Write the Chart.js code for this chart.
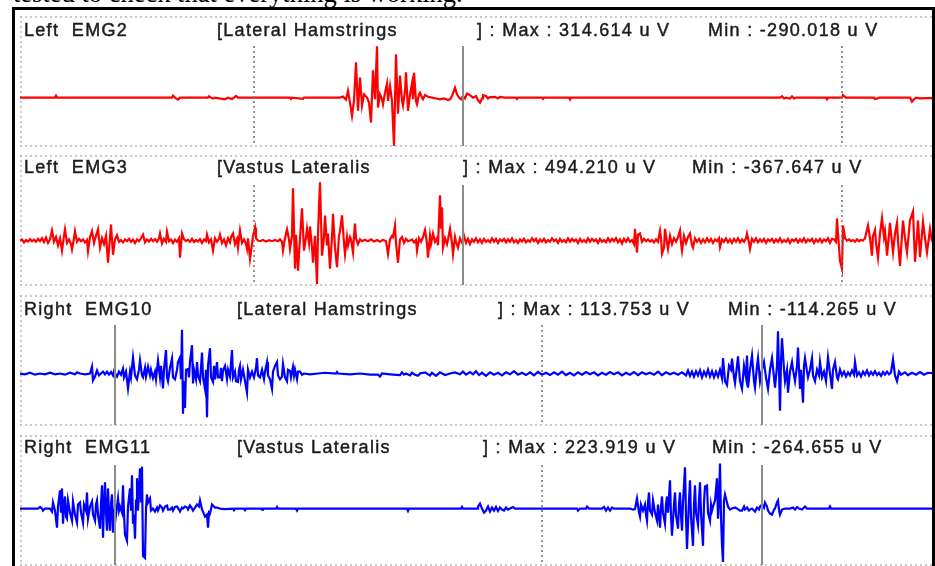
<!DOCTYPE html>
<html>
<head>
<meta charset="utf-8">
<script src="https://cdn.jsdelivr.net/npm/chart.js@4.4.1/dist/chart.umd.min.js"></script>
<style>
  body { margin: 0; background: #fff; width: 935px; height: 566px; overflow: hidden; position: relative; }
  .frame { position: absolute; left: 12px; top: 7px; width: 923px; height: 620px; box-sizing: border-box; border: 3px solid #000; z-index: 5; }
  .caption { position: absolute; left: 13px; font-family: "Liberation Serif", "Times New Roman", serif; font-size: 26.5px; line-height: 26.5px; white-space: pre; color: #000; }
  .lbl { position: absolute; font-family: "Liberation Sans", Arial, sans-serif; font-size: 18px; line-height: 18px; letter-spacing: 1.3px; white-space: pre; color: #1c1c1c; -webkit-text-stroke: 0.45px #1c1c1c; z-index: 3; }
  canvas { position: absolute; }
</style>
</head>
<body>
<div class="frame"></div>
<script>
// channel labels
const sides = ['Left', 'Left', 'Right', 'Right'];
const channels = ['EMG2', 'EMG3', 'EMG10', 'EMG11'];
const muscles = ['Lateral Hamstrings', 'Vastus Lateralis', 'Lateral Hamstrings', 'Vastus Lateralis'];
const maxVals = ['314.614', '494.210', '113.753', '223.919'];
const minVals = ['-290.018', '-367.647', '-114.265', '-264.655'];

// event markers (sample index)
const dottedMarks = [[254, 842], [254, 842], [542], [542]];
const solidMarks = [[463], [463], [115, 762], [115, 762]];

// traces: [sample, uV]
const emg2 = [[20,0],[55,0],[56,12],[57,0],[172,0],[173,12],[175,0],[178,-12],[180,0],[208,0],[209,8],[211,0],[213,-6],[215,0],[225,-10],[228,0],[232,-8],[234,0],[236,10],[238,0],[290,0],[291,-8],[292,0],[303,-8],[304,0],[340,0],[343,6],[346,-12],[348,42],[350,-30],[352,-109],[354,-20],[356,212],[358,-79],[360,121],[362,-48],[364,20],[367,0],[369,-30],[371,-150],[373,164],[375,-10],[377,309],[378,-60],[380,20],[382,-10],[383,-40],[385,30],[387,85],[388,-20],[390,70],[392,-20],[394,-290],[396,260],[398,-97],[400,133],[402,-20],[403,-48],[405,40],[406,152],[408,-79],[410,20],[412,85],[413,-10],[414,150],[416,-20],[417,-40],[419,20],[420,30],[422,0],[423,-10],[425,15],[428,5],[432,0],[436,-5],[440,-10],[444,-5],[448,-15],[450,-10],[452,10],[455,60],[457,20],[459,0],[461,-10],[463,10],[465,-5],[467,25],[470,15],[473,0],[476,10],[478,-15],[480,-30],[482,-5],[483,15],[486,10],[488,-5],[490,3],[495,5],[498,-5],[500,5],[505,0],[516,0],[517,-8],[518,0],[542,0],[543,-8],[544,0],[569,0],[570,-12],[571,0],[780,0],[782,8],[784,-5],[786,0],[790,-6],[792,8],[794,-5],[796,0],[826,0],[827,-10],[828,0],[842,0],[843,15],[845,5],[846,0],[874,0],[875,-8],[877,-6],[879,0],[910,0],[912,-25],[914,-10],[916,0],[920,-4],[925,-3],[935,-3]];

const emg3 = [[20,0],[22,10],[24,-15],[26,5],[28,-8],[30,12],[32,-5],[34,8],[36,-10],[38,15],[40,-5],[42,20],[44,-12],[46,25],[48,-20],[50,10],[52,85],[54,-10],[56,30],[58,-40],[60,20],[62,-85],[64,40],[65,95],[67,-20],[69,10],[71,-30],[72,-75],[74,20],[75,80],[77,-10],[79,15],[81,-5],[83,10],[85,-15],[87,5],[88,-90],[90,30],[92,80],[94,-20],[96,40],[98,95],[100,-60],[102,20],[104,-30],[106,40],[108,-188],[110,30],[111,137],[113,-120],[115,10],[117,45],[119,-10],[121,5],[123,-15],[125,10],[127,-5],[129,15],[131,-10],[133,8],[135,-20],[137,10],[139,-5],[141,20],[143,50],[145,-15],[147,10],[149,-8],[151,15],[153,-5],[155,12],[157,-10],[159,20],[160,60],[162,-25],[164,15],[166,-10],[167,75],[169,-5],[171,10],[173,-20],[175,8],[177,-10],[179,20],[180,-145],[182,60],[184,10],[186,-5],[188,8],[190,-10],[192,15],[194,-12],[196,5],[198,-8],[200,12],[202,-20],[204,10],[206,-5],[207,50],[209,-15],[211,10],[213,-85],[215,20],[217,-10],[219,15],[220,50],[222,-20],[224,10],[226,-40],[228,20],[230,-15],[231,30],[233,60],[235,-30],[237,15],[238,-60],[240,85],[242,-20],[244,10],[246,-30],[247,-70],[248,20],[250,-154],[252,-30],[253,40],[255,111],[256,20],[258,0],[260,-5],[263,5],[266,-8],[269,3],[272,-5],[275,5],[278,-5],[280,10],[282,-10],[283,-85],[285,20],[287,95],[289,10],[290,-70],[292,40],[293,444],[295,-239],[296,50],[298,-255],[300,20],[302,273],[304,-85],[306,30],[307,100],[309,-20],[310,120],[312,-60],[313,-188],[315,40],[317,-367],[318,60],[320,494],[322,-128],[324,30],[325,213],[327,-40],[328,60],[330,-239],[332,30],[333,228],[335,-60],[337,-225],[339,40],[340,80],[342,214],[344,-20],[345,-115],[347,30],[348,-40],[350,30],[351,10],[353,-100],[354,40],[355,145],[356,20],[358,-30],[360,10],[362,-5],[365,8],[368,-5],[371,10],[374,-8],[377,5],[380,-10],[383,8],[386,-5],[388,-115],[390,10],[392,40],[393,30],[395,128],[396,-20],[398,-188],[400,10],[402,30],[404,-20],[406,15],[408,-5],[410,0],[412,10],[414,-15],[416,5],[417,-85],[419,20],[421,-10],[423,30],[425,90],[427,-20],[428,-145],[430,40],[431,-30],[433,60],[435,-10],[437,20],[438,-40],[440,385],[441,100],[442,282],[443,-60],[445,20],[447,-30],[448,10],[450,100],[452,-20],[453,-115],[455,30],[456,-10],[458,-60],[460,20],[462,-15],[463,0],[464,40],[466,-20],[468,15],[470,-30],[472,10],[474,-10],[476,20],[478,-15],[480,10],[482,-20],[484,15],[486,-10],[488,5],[490,-15],[492,20],[494,-10],[496,15],[498,-20],[500,10],[502,-5],[504,15],[506,-15],[508,10],[510,-10],[512,20],[514,-15],[516,5],[518,-20],[520,10],[522,-8],[524,15],[526,-15],[528,5],[530,-10],[532,20],[534,-5],[536,15],[538,-20],[540,10],[542,-10],[544,15],[546,-15],[548,5],[550,-10],[552,20],[554,-5],[556,10],[558,-20],[560,15],[562,-10],[564,5],[566,-15],[568,20],[570,-10],[572,15],[574,-5],[576,10],[578,-20],[580,15],[582,-10],[584,5],[586,-15],[588,20],[590,-10],[592,15],[594,-5],[596,10],[598,-20],[600,15],[602,-10],[604,5],[606,-15],[608,20],[610,-10],[612,15],[614,-5],[616,20],[618,-15],[620,10],[622,-25],[624,15],[626,-10],[628,20],[630,-10],[632,5],[634,-30],[635,100],[637,-100],[638,50],[640,60],[642,-10],[644,15],[646,-5],[648,10],[650,-8],[652,5],[654,-15],[656,10],[658,-10],[660,85],[661,20],[662,-111],[664,-60],[665,100],[667,-20],[668,-70],[670,40],[672,-30],[674,20],[676,-10],[678,30],[680,85],[681,-20],[682,-85],[684,40],[686,-20],[688,30],[690,60],[692,-40],[693,-60],[695,20],[697,-10],[699,15],[701,-20],[703,10],[705,-15],[707,20],[709,-10],[711,15],[713,-20],[715,10],[717,-5],[719,20],[720,-55],[722,10],[724,-10],[726,20],[728,-15],[730,10],[732,-20],[734,15],[736,-10],[738,20],[740,-15],[742,10],[744,-10],[746,20],[747,60],[749,-20],[750,-70],[752,15],[754,-10],[756,20],[758,-15],[760,10],[762,-10],[764,15],[766,-20],[768,10],[770,-5],[772,15],[774,-15],[776,10],[778,-10],[780,20],[782,-15],[784,5],[786,-10],[788,15],[790,-20],[792,10],[794,-5],[796,15],[798,-15],[800,10],[802,-10],[804,20],[806,-15],[808,10],[810,-5],[812,15],[814,-20],[816,10],[818,-10],[820,15],[822,-15],[824,10],[826,-5],[828,20],[830,-20],[832,15],[834,10],[836,-10],[837,188],[838,60],[840,-171],[842,-239],[843,128],[845,20],[847,0],[849,10],[851,-5],[853,5],[855,-10],[857,10],[859,-5],[861,5],[863,0],[865,20],[868,128],[870,20],[872,-128],[873,40],[875,90],[876,-20],[878,-145],[880,60],[882,190],[884,30],[885,80],[886,-10],[887,-128],[889,50],[890,150],[892,-20],[893,-100],[895,60],[897,150],[898,0],[900,-214],[902,50],[903,170],[905,20],[907,-100],[909,80],[910,170],[913,248],[914,30],[915,-180],[917,40],[918,170],[919,20],[920,-140],[922,60],[923,160],[925,20],[927,-100],[929,30],[930,100],[932,0],[935,0]];

const emg10 = [[20,0],[25,-2],[30,2],[35,-3],[40,0],[45,-2],[50,2],[55,-2],[60,0],[65,-3],[70,2],[75,-2],[77,3],[80,0],[85,-2],[90,0],[92,18],[93,-18],[95,-8],[97,8],[99,-5],[101,0],[103,5],[105,-2],[107,5],[109,-3],[111,4],[113,-5],[114,6],[116,-4],[117,-8],[119,5],[121,-3],[123,13],[124,-10],[126,5],[128,-39],[130,5],[131,-10],[133,42],[135,-5],[137,-15],[139,10],[140,34],[142,-5],[143,-10],[145,15],[146,-8],[148,18],[150,-5],[151,10],[153,-12],[155,5],[156,-15],[158,34],[160,-10],[161,20],[163,-39],[164,10],[166,61],[167,-10],[168,-20],[170,15],[172,39],[173,-10],[175,-15],[177,10],[178,30],[180,42],[181,-15],[182,114],[183,-105],[184,-20],[185,-90],[186,10],[188,12],[189,-10],[190,30],[192,74],[193,-26],[194,10],[196,-15],[197,30],[198,-5],[200,-20],[201,15],[202,55],[203,-10],[205,-40],[206,10],[207,-114],[208,20],[210,66],[211,-10],[213,-22],[214,20],[215,-15],[217,30],[218,-10],[220,-10],[221,15],[222,-20],[223,8],[225,20],[227,-15],[228,10],[230,-8],[232,61],[233,-10],[235,5],[236,-20],[238,-22],[239,10],[240,20],[241,-15],[243,10],[245,-20],[247,-50],[248,10],[250,-10],[252,5],[254,-10],[256,15],[257,40],[258,-5],[260,-10],[262,10],[264,-15],[265,5],[267,30],[268,-5],[270,-15],[272,-40],[273,5],[275,20],[277,30],[278,-5],[280,-15],[282,-8],[283,25],[285,-10],[287,-20],[288,10],[290,7],[291,-10],[293,17],[294,-5],[295,10],[297,-15],[298,5],[300,5],[302,-3],[304,0],[310,-2],[318,0],[325,2],[336,0],[337,4],[338,0],[350,-2],[360,0],[370,-3],[378,-3],[380,-8],[382,0],[390,-2],[400,-4],[402,3],[404,-3],[406,0],[410,-5],[412,2],[415,-3],[418,-6],[420,0],[425,3],[430,-5],[432,2],[436,-6],[440,3],[445,-4],[450,0],[455,3],[460,-2],[463,5],[466,-3],[470,4],[473,-2],[476,6],[479,-4],[482,2],[486,-6],[490,3],[494,-3],[498,2],[502,-5],[506,3],[510,-2],[514,6],[518,-3],[522,2],[526,-4],[530,3],[534,-5],[538,4],[542,-3],[546,2],[550,-4],[554,3],[558,-3],[562,5],[566,-4],[570,2],[574,-5],[578,3],[582,-3],[586,4],[590,-2],[594,3],[598,-5],[602,2],[606,-3],[610,4],[614,-2],[618,3],[622,-5],[626,2],[630,-3],[634,4],[638,-4],[642,3],[646,-2],[650,2],[654,-3],[658,5],[662,-4],[666,3],[670,-2],[674,2],[678,-3],[682,3],[686,-5],[688,8],[690,-6],[692,5],[694,-8],[696,6],[698,-5],[700,8],[702,-10],[704,5],[706,-6],[708,10],[710,-8],[712,6],[714,-10],[716,5],[718,-8],[720,10],[722,-12],[723,40],[725,-20],[727,-30],[729,20],[731,10],[732,39],[734,-10],[735,-25],[737,20],[738,45],[740,-20],[742,-40],[744,20],[746,-10],[747,47],[748,-37],[750,10],[752,47],[754,-20],[755,-37],[757,20],[758,40],[760,-20],[762,10],[764,30],[766,-10],[768,-40],[770,10],[772,40],[774,-10],[775,-37],[777,20],[778,110],[780,-97],[781,30],[782,92],[784,10],[785,-20],[787,10],[788,-50],[790,5],[792,30],[793,10],[795,-20],[797,20],[798,68],[800,-40],[801,10],[803,-76],[804,20],[805,40],[807,5],[808,-10],[810,10],[812,40],[813,-5],[815,-20],[817,10],[819,-5],[820,30],[822,-10],[824,5],[826,-20],[828,42],[830,0],[832,-40],[833,10],[835,30],[837,-10],[838,-15],[840,10],[842,-5],[844,5],[846,-8],[848,3],[850,-5],[852,8],[854,-3],[855,30],[857,-5],[859,3],[861,-8],[863,5],[865,-3],[867,8],[869,-5],[871,4],[873,-3],[875,6],[877,-4],[879,2],[881,-6],[883,4],[885,-3],[887,5],[889,-2],[891,3],[893,37],[895,-5],[897,-20],[899,5],[901,-3],[905,3],[908,-4],[912,2],[916,-3],[920,4],[924,-3],[928,2],[935,0]];

const emg11 = [[20,0],[38,0],[40,8],[42,0],[43,-10],[45,0],[50,0],[52,-15],[53,30],[55,-10],[57,-95],[58,10],[60,90],[61,-20],[62,100],[63,-75],[64,20],[65,60],[66,-40],[67,-50],[68,40],[70,-20],[72,-60],[73,35],[75,-30],[77,-70],[78,20],[80,30],[81,-20],[83,-70],[84,20],[86,-10],[87,80],[88,-50],[90,10],[92,35],[93,-30],[95,-60],[96,20],[97,40],[98,-30],[100,-100],[101,20],[102,115],[103,-145],[104,20],[105,130],[106,-20],[107,-110],[108,100],[109,-30],[110,-110],[111,20],[112,70],[113,-120],[114,-40],[115,10],[116,-30],[118,50],[119,-10],[120,10],[122,-20],[123,115],[124,-20],[125,-130],[127,-160],[128,10],[130,100],[131,-10],[132,165],[133,-75],[134,-30],[135,-150],[136,40],[137,150],[138,-10],[140,200],[141,30],[142,208],[143,-235],[145,-245],[146,0],[147,70],[148,30],[150,50],[151,-10],[153,0],[155,-15],[157,5],[158,-10],[160,15],[162,5],[163,-10],[165,10],[167,15],[168,-5],[170,-5],[172,5],[173,-10],[175,8],[177,10],[179,-5],[180,-15],[182,5],[183,0],[185,10],[187,5],[188,-5],[190,15],[192,0],[193,-10],[195,5],[197,20],[199,10],[200,40],[202,-5],[203,-15],[205,-40],[207,-30],[208,-95],[209,-20],[210,-25],[212,20],[213,15],[215,5],[217,5],[220,0],[225,-3],[233,0],[234,-8],[235,0],[244,0],[245,-8],[246,0],[261,0],[262,-6],[263,0],[276,0],[277,8],[278,0],[296,0],[297,-10],[298,0],[407,0],[408,-12],[409,0],[461,0],[462,8],[463,0],[477,0],[478,10],[480,25],[482,0],[484,-20],[486,-10],[488,10],[490,-15],[492,5],[494,-10],[496,8],[498,-12],[500,5],[502,-5],[504,-10],[506,5],[508,-5],[510,0],[513,8],[515,0],[577,0],[578,-10],[580,0],[586,0],[587,10],[589,0],[602,0],[604,8],[606,-10],[608,5],[610,-10],[612,5],[614,0],[630,0],[633,-5],[635,-3],[637,50],[639,-20],[640,-40],[641,20],[643,-10],[645,20],[646,-30],[647,-60],[648,30],[649,80],[650,-10],[652,-30],[653,40],[655,-20],[657,-60],[658,20],[660,-95],[661,10],[662,60],[663,-20],[665,-75],[666,20],[667,60],[668,-20],[670,140],[671,-40],[672,-135],[674,20],[675,80],[676,-30],[678,-100],[679,20],[680,80],[681,-30],[682,-110],[683,30],[685,205],[686,-40],[687,-200],[689,40],[690,140],[691,-40],[693,-185],[694,20],[695,115],[696,-20],[698,-80],[699,40],[700,130],[701,-20],[703,-185],[704,30],[705,110],[707,115],[708,-20],[710,-60],[711,20],[712,-10],[713,10],[715,40],[717,150],[718,-50],[719,40],[720,224],[721,-40],[722,-180],[723,-265],[724,40],[725,70],[727,30],[728,10],[730,-5],[732,0],[735,5],[737,0],[740,-10],[742,-10],[744,10],[745,-5],[747,5],[749,-10],[750,-5],[752,0],[754,-10],[755,-15],[757,5],[759,-5],[760,10],[762,20],[764,5],[765,30],[767,10],[768,-10],[770,-25],[772,-30],[774,-5],[775,0],[777,30],[778,40],[779,-5],[780,-30],[782,-5],[785,0],[790,0],[793,5],[795,-5],[797,8],[799,0],[802,-5],[805,10],[807,0],[829,0],[830,10],[831,0],[935,0]];

const traces = [emg2, emg3, emg10, emg11];
const colors = ['#ff0000', '#ff0000', '#0000ff', '#0000ff'];

// layout
const panelTops = [16, 155, 295, 435];
const yRanges = [[-297, 491], [-385, 726], [-137, 205], [-285, 365]];
const baselines = [36, 173, 315, 453];
const muscleX = [217, 217, 237, 237];
const maxX = [477, 463, 498, 483];
const minX = [708, 692, 728, 712];

function addText(cls, text, x, baseline, fs, asc) {
  const d = document.createElement('div');
  d.className = cls;
  d.textContent = text;
  d.style.left = x + 'px';
  d.style.top = (baseline - asc * fs) + 'px';
  document.body.appendChild(d);
}

addText('caption', 'tested to check that everything is working.', 13, 2, 26.5, 0.84);

const panelFrame = {
  id: 'panelFrame',
  beforeDraw(chart) {
    const ctx = chart.ctx;
    const w = chart.width, h = chart.height;
    ctx.save();
    ctx.strokeStyle = '#b8b8b8';
    ctx.lineWidth = 1.5;
    ctx.setLineDash([2, 3]);
    ctx.beginPath();
    ctx.moveTo(0, 1); ctx.lineTo(w, 1);
    ctx.moveTo(1, 0); ctx.lineTo(1, h);
    ctx.moveTo(0, h - 1); ctx.lineTo(w, h - 1);
    ctx.stroke();
    ctx.restore();
  }
};

const markers = {
  id: 'markers',
  afterDatasetsDraw(chart, args, opts) {
    const ctx = chart.ctx;
    const x = chart.scales.x;
    const top = 30, bottom = chart.height - 1;
    ctx.save();
    ctx.strokeStyle = '#707070';
    ctx.lineWidth = 1.5;
    ctx.setLineDash([2, 3]);
    opts.dotted.forEach(m => {
      const px = Math.round(x.getPixelForValue(m));
      ctx.beginPath(); ctx.moveTo(px, top); ctx.lineTo(px, bottom); ctx.stroke();
    });
    ctx.setLineDash([]);
    ctx.strokeStyle = '#8c8c8c';
    ctx.lineWidth = 2;
    opts.solid.forEach(m => {
      const px = Math.round(x.getPixelForValue(m));
      ctx.beginPath(); ctx.moveTo(px, top); ctx.lineTo(px, bottom); ctx.stroke();
    });
    ctx.restore();
  }
};

traces.forEach((pts, i) => {
  const cv = document.createElement('canvas');
  cv.width = 915;
  cv.height = 131;
  cv.style.left = '20px';
  cv.style.top = panelTops[i] + 'px';
  document.body.appendChild(cv);

  new Chart(cv, {
    type: 'line',
    data: {
      datasets: [{
        data: pts.map(p => ({ x: p[0], y: p[1] })),
        borderColor: colors[i],
        borderWidth: 2.2,
        pointRadius: 0,
        tension: 0
      }]
    },
    options: {
      responsive: false,
      animation: false,
      events: [],
      layout: { padding: 0 },
      plugins: {
        legend: { display: false },
        tooltip: { enabled: false },
        markers: { dotted: dottedMarks[i], solid: solidMarks[i] }
      },
      scales: {
        x: { type: 'linear', min: 20, max: 935, display: false },
        y: { min: yRanges[i][0], max: yRanges[i][1], display: false }
      }
    },
    plugins: [panelFrame, markers]
  });

  addText('lbl', sides[i] + '  ' + channels[i], 24, baselines[i], 18, 0.85);
  addText('lbl', '[' + muscles[i], muscleX[i], baselines[i], 18, 0.85);
  addText('lbl', '] : Max : ' + maxVals[i] + ' u V', maxX[i], baselines[i], 18, 0.85);
  addText('lbl', 'Min : ' + minVals[i] + ' u V', minX[i], baselines[i], 18, 0.85);
});
</script>
</body>
</html>
